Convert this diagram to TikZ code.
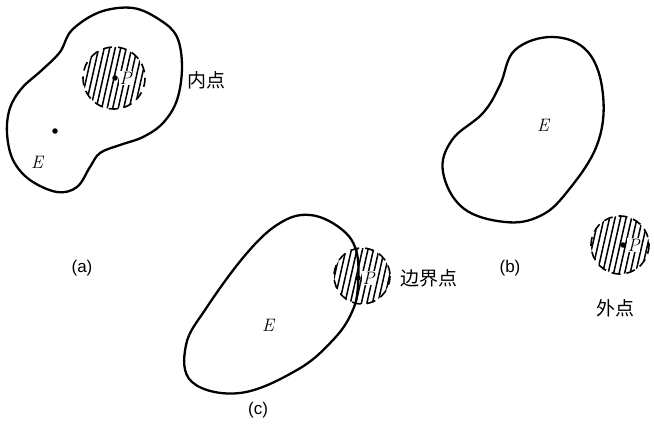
\documentclass[tikz,border=0pt]{standalone}
\usepackage{fontspec}
\usetikzlibrary{positioning}
\newfontfamily\cjk{Noto Sans CJK SC}
\newfontfamily\tagfont{Liberation Sans}
\tikzset{
  blob/.style={line width=2.3pt, line join=round},
  hatch/.style={line width=1.5pt},
  rim/.style={line width=1.6pt, dash pattern=on 9pt off 6pt},
  pt/.style={circle, fill, inner sep=0pt, minimum size=5.5pt},
  lbl/.style={font=\fontsize{18}{18}\selectfont\itshape},
  plbl/.style={lbl, fill=white, inner sep=0.5pt},
  cn/.style={font=\fontsize{19}{19}\selectfont\cjk},
  tag/.style={font=\fontsize{17}{17}\selectfont\tagfont}
}
\begin{document}
\begin{tikzpicture}[x=1pt,y=-1pt]
\useasboundingbox (0,0) rectangle (654,428);

% hatched neighbourhoods
\foreach \cx/\cy/\r in {114/78/32, 362/276/29, 620/245/30} {
  \begin{scope}
    \clip (\cx,\cy) circle (\r-1);
    \foreach \d in {-44,-38.5,...,44}
      \draw[hatch] (\cx+\d-9,\cy+40) -- (\cx+\d+9,\cy-40);
  \end{scope}
  \draw[rim] (\cx,\cy) circle (\r-1);
}

% (a)
\draw[blob] plot[smooth cycle, tension=0.6] coordinates {
  (100,12) (133,8) (160,20) (177,37) (182,67) (177,100) (163,123)
  (143,137) (120,145) (100,153) (90,167) (77,187) (57,192) (30,180)
  (13,160) (7,133) (10,108) (22,88) (42,70) (60,52) (72,30)};
\node[pt] (pa) at (115,78) {};
\node[plbl, right=1pt of pa] (lpa) {P};
\node[pt] (qa) at (55,131) {};
\node[lbl] (ea) at (37,162) {E};
\node[cn] (inner) at (206,80) {内点};
\node[tag] (ta) at (82,268) {(a)};

% (b)
\draw[blob] plot[smooth cycle, tension=0.65] coordinates {
  (553,37) (588,52) (603,95) (597,145) (567,192) (540,216) (505,222)
  (463,208) (443,172) (452,140) (483,113) (500,85) (515,50)};
\node[lbl] (eb) at (543,125) {E};
\node[pt] (pb) at (623,245) {};
\node[plbl, right=1pt of pb] (lpb) {P};
\node[cn] (outer) at (615,308) {外点};
\node[tag] (tb) at (510,268) {(b)};

% (c)
\draw[blob] plot[smooth cycle, tension=0.65] coordinates {
  (310,215) (340,228) (356,250) (358,285) (352,312) (333,340) (297,370)
  (240,393) (192,382) (186,345) (207,307) (247,253) (280,223)};
\node[pt] (pc) at (358,278) {};
\node[plbl, right=1pt of pc] (lpc) {P};
\node[lbl] (ec) at (268,325) {E};
\node[cn] (bound) at (429,278) {边界点};
\node[tag] (tc) at (258,410) {(c)};
\end{tikzpicture}
\end{document}
